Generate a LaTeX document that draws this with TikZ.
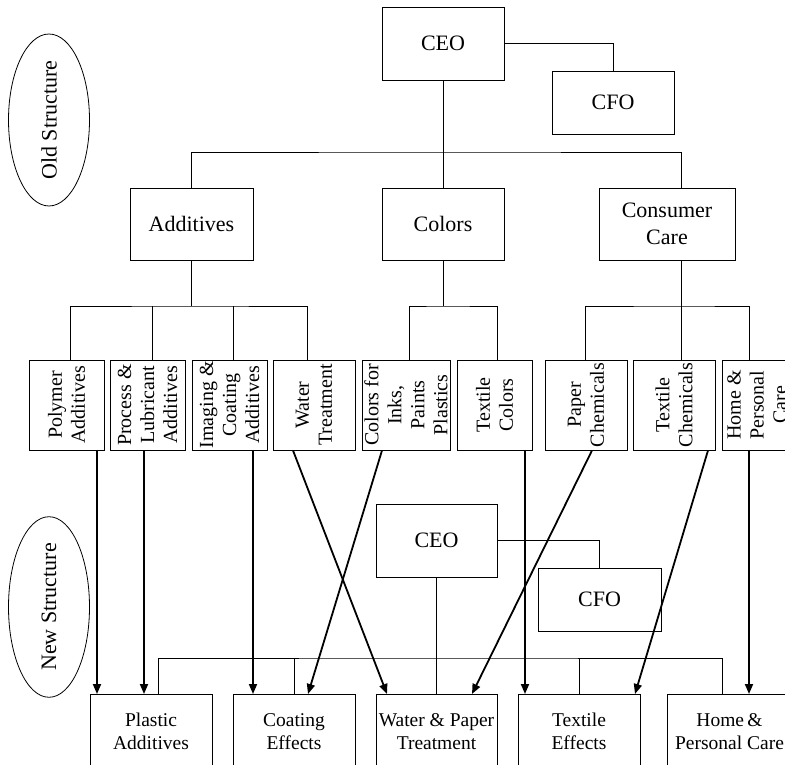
\documentclass[tikz,border=0pt]{standalone}
\usepackage{fontspec}
\setmainfont{Liberation Serif}
\usetikzlibrary{arrows.meta,shapes.geometric}
\begin{document}
\begin{tikzpicture}[x=1pt,y=-1pt,
  box/.style={draw, line width=0.9pt, inner sep=1pt, align=center},
  topbox/.style={box, font=\fontsize{22}{26.5}\selectfont},
  vbox/.style={box, rotate=90, minimum width=90pt, minimum height=#1, font=\fontsize{20}{23}\selectfont},
  bbox/.style={box, anchor=north, minimum height=74pt, font=\fontsize{19.5}{22.5}\selectfont},
  oval/.style={draw, ellipse, line width=0.8pt, rotate=90, minimum width=172pt, minimum height=81pt, inner sep=0pt, font=\fontsize{22}{26}\selectfont},
  ln/.style={line width=0.9pt},
  arr/.style={line width=1.8pt, -{Triangle[length=10pt,width=8pt]}}]
\useasboundingbox (0,0) rectangle (785,765);

% ---- ovals
\node[oval] (old) at (49,120) {Old Structure};
\node[oval] (new) at (49,607) {New Structure};

% ---- old structure
\node[topbox, minimum width=122pt, minimum height=73pt] (ceo) at (443,43.5) {CEO};
\node[topbox, minimum width=122pt, minimum height=63pt] (cfo) at (613,102.5) {CFO};
\node[topbox, minimum width=123pt, minimum height=72pt] (add) at (191.5,224) {Additives};
\node[topbox, minimum width=122pt, minimum height=72pt] (col) at (443,224) {Colors};
\node[topbox, minimum width=136pt, minimum height=72pt] (cc) at (667,224) {Consumer\\Care};

\node[vbox=75pt] (poly) at (66.5,405) {Polymer\\Additives};
\node[vbox=75pt] (proc) at (147.5,405) {Process \&\\Lubricant\\Additives};
\node[vbox=75pt] (imag) at (229.5,405) {Imaging \&\\Coating\\Additives};
\node[vbox=82pt] (wat) at (314,405) {Water\\Treatment};
\node[vbox=88pt] (cink) at (406,405) {Colors for\\Inks,\\Paints\\Plastics};
\node[vbox=75pt] (tcol) at (494.5,405) {Textile\\Colors};
\node[vbox=82pt] (pap) at (586,405) {Paper\\Chemicals};
\node[vbox=82pt] (tchem) at (674,405) {Textile\\Chemicals};
\node[vbox=70pt] (home) at (757,405) {Home \&\\Personal\\Care};

\coordinate (j1) at (443,152);
\draw[ln] (ceo.east) -| (cfo.north);
\draw[ln] (ceo.south) -- (j1);
\draw[ln] (add.north) |- (j1) -| (cc.north -| 681,0);
\draw[ln] (col.north) -- (j1);

\coordinate (j2) at (191.5,306);
\draw[ln] (add.south) -- (j2);
\draw[ln] (poly.east -| 70,0) |- (j2) -| (wat.east -| 307,0);
\draw[ln] (proc.east -| 152,0) -- (j2 -| 152,0);
\draw[ln] (imag.east -| 233,0) -- (j2 -| 233,0);

\coordinate (j3) at (443,306);
\draw[ln] (col.south) -- (j3);
\draw[ln] (cink.east -| 409,0) |- (j3) -| (tcol.east -| 497,0);

\coordinate (j4) at (681,306);
\draw[ln] (cc.south -| 681,0) -- (j4);
\draw[ln] (pap.east -| 585,0) |- (j4) -| (home.east -| 749,0);
\draw[ln] (tchem.east -| 681,0) -- (j4);

% ---- new structure
\node[topbox, minimum width=121pt, minimum height=73pt] (bceo) at (436.5,540.5) {CEO};
\node[topbox, minimum width=123pt, minimum height=63pt] (bcfo) at (599.5,599.5) {CFO};

\node[bbox, minimum width=122pt] (plastic) at (151,694) {Plastic\\Additives};
\node[bbox, minimum width=122pt] (coat) at (294,694) {Coating\\Effects};
\node[bbox, minimum width=121pt] (wp) at (436.5,694) {Water \& Paper\\Treatment};
\node[bbox, minimum width=122pt] (tex) at (579,694) {Textile\\Effects};
\node[bbox, minimum width=125pt] (hpc) at (729.5,694) {Home\,\&\\Personal Care};

\draw[ln] (bceo.east) -| (bcfo.north);
\draw[ln] (bceo.south) -- (wp.north);
\coordinate (j5) at (436.5,658);
\draw[ln] (plastic.north -| 158,0) |- (j5) -| (hpc.north -| 722,0);
\draw[ln] (coat.north) -- (coat.north |- j5);
\draw[ln] (tex.north) -- (tex.north |- j5);

% ---- arrows old -> new
\draw[arr] (poly.west -| 97,0) -- (plastic.north -| 97,0);
\draw[arr] (proc.west -| 144,0) -- (plastic.north -| 144,0);
\draw[arr] (imag.west -| 253,0) -- (coat.north -| 253,0);
\draw[arr] (wat.west -| 293,0) -- (wp.north -| 387,0);
\draw[arr] (cink.west -| 382,0) -- (coat.north -| 308,0);
\draw[arr] (tcol.west -| 525,0) -- (tex.north -| 525,0);
\draw[arr] (pap.west -| 592,0) -- (wp.north -| 472,0);
\draw[arr] (tchem.west -| 708,0) -- (tex.north -| 635,0);
\draw[arr] (home.west -| 749,0) -- (hpc.north -| 749,0);
\end{tikzpicture}
\end{document}
